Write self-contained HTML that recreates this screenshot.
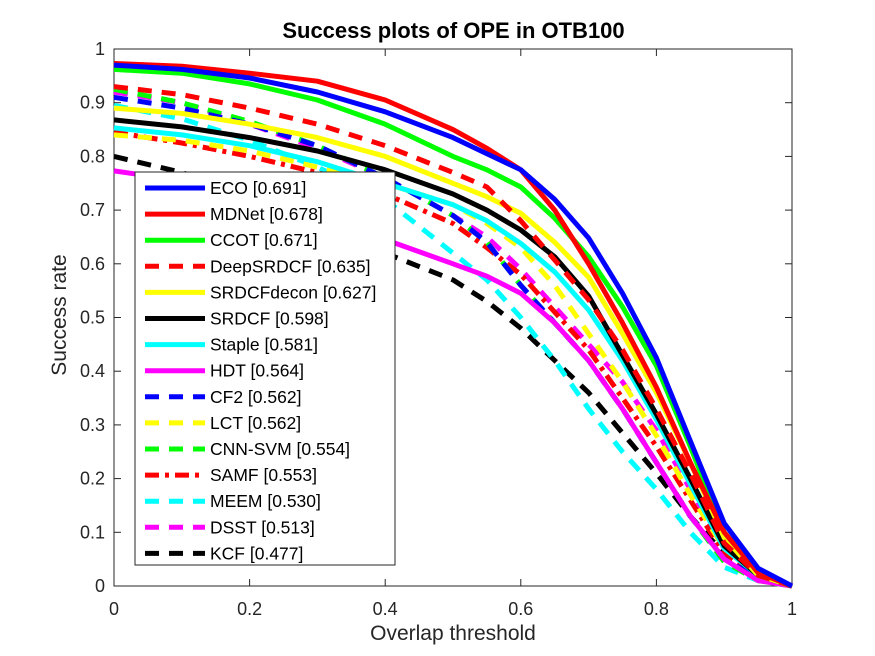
<!DOCTYPE html>
<html><head><meta charset="utf-8"><style>
body{margin:0;background:#fff;}
svg{display:block;font-family:"Liberation Sans",sans-serif;}
</style></head><body>
<svg id="chart" width="875" height="656">
<rect x="0" y="0" width="875" height="656" fill="#fff"/>
<g id="plot"></g>
</svg>
<script>
const thresholds=[0,0.1,0.2,0.3,0.4,0.5,0.55,0.6,0.65,0.7,0.75,0.8,0.85,0.9,0.95,1];
const trackers=["ECO [0.691]","MDNet [0.678]","CCOT [0.671]","DeepSRDCF [0.635]","SRDCFdecon [0.627]","SRDCF [0.598]","Staple [0.581]","HDT [0.564]","CF2 [0.562]","LCT [0.562]","CNN-SVM [0.554]","SAMF [0.553]","MEEM [0.530]","DSST [0.513]","KCF [0.477]"];
const ecoVals=[.97,.962,.946,.92,.883,.835,.805,.775,.72,.648,.545,.425,.27,.117,.033,0];
const mdnetVals=[.973,.968,.955,.94,.905,.85,.815,.775,.70,.60,.49,.37,.23,.10,.025,0];
const ccotVals=[.962,.955,.935,.905,.86,.80,.775,.743,.685,.613,.52,.41,.26,.10,.025,0];
const deepsrdcfVals=[.93,.915,.89,.86,.82,.77,.743,.68,.607,.533,.44,.33,.21,.08,.02,0];
const srdcfdeconVals=[.89,.88,.86,.835,.80,.75,.725,.694,.64,.575,.47,.36,.23,.09,.02,0];
const srdcfVals=[.868,.855,.835,.81,.775,.73,.70,.663,.613,.54,.43,.32,.20,.075,.02,0];
const stapleVals=[.853,.84,.82,.79,.75,.71,.68,.638,.585,.514,.42,.31,.19,.07,.02,0];
const hdtVals=[.773,.755,.725,.69,.645,.60,.577,.545,.49,.42,.33,.23,.13,.05,.01,0];
const cf2Vals=[.91,.89,.86,.82,.76,.69,.64,.56,.49,.42,.33,.23,.13,.05,.015,0];
const lctVals=[.84,.83,.81,.78,.75,.71,.675,.63,.56,.47,.38,.28,.17,.07,.02,0];
const cnnsvmVals=[.925,.90,.865,.82,.76,.69,.64,.56,.49,.42,.33,.23,.13,.045,.01,0];
const samfVals=[.845,.825,.80,.77,.73,.675,.63,.58,.51,.44,.35,.26,.16,.06,.02,0];
const meemVals=[.895,.87,.83,.78,.72,.62,.57,.50,.42,.33,.25,.18,.10,.035,.01,0];
const dsstVals=[.92,.90,.86,.815,.76,.69,.65,.59,.52,.45,.38,.29,.18,.07,.02,0];
const kcfVals=[.80,.77,.73,.68,.62,.57,.53,.48,.42,.36,.285,.21,.13,.06,.015,0];
const xTicks=["0","0.2","0.4","0.6","0.8","1"];
const yTicks=["0","0.1","0.2","0.3","0.4","0.5","0.6","0.7","0.8","0.9","1"];

const series=[ecoVals,mdnetVals,ccotVals,deepsrdcfVals,srdcfdeconVals,srdcfVals,stapleVals,hdtVals,cf2Vals,lctVals,cnnsvmVals,samfVals,meemVals,dsstVals,kcfVals];
const colors=["#0000ff","#ff0000","#00ff00","#ff0000","#ffff00","#000000","#00ffff","#ff00ff","#0000ff","#ffff00","#00ff00","#ff0000","#00ffff","#ff00ff","#000000"];
const dashes=["","","","14 10","","","","","14 10","14 10","14 10","14 6 4 6","14 10","14 10","14 10"];
const X0=114,X1=792,Y0=586,Y1=49;
function sx(v){return X0+(X1-X0)*v;}
function sy(v){return Y0-(Y0-Y1)*v;}
const NS="http://www.w3.org/2000/svg";
const g=document.getElementById('plot');
function mk(t,a,p){const e=document.createElementNS(NS,t);for(const k in a)e.setAttribute(k,a[k]);(p||g).appendChild(e);return e;}
mk('rect',{x:X0,y:Y1,width:X1-X0,height:Y0-Y1,fill:'#fff',stroke:'#262626','stroke-width':1});
xTicks.forEach(t=>{const v=parseFloat(t),x=sx(v);
 mk('line',{x1:x,x2:x,y1:Y0,y2:Y0-7,stroke:'#262626'});mk('line',{x1:x,x2:x,y1:Y1,y2:Y1+7,stroke:'#262626'});
 const tx=mk('text',{x:x,y:Y0+29,'text-anchor':'middle','font-size':18,fill:'#262626'});tx.textContent=t;
 
 });
yTicks.forEach(t=>{const v=parseFloat(t),y=sy(v);
 mk('line',{x1:X0,x2:X0+7,y1:y,y2:y,stroke:'#262626'});mk('line',{x1:X1,x2:X1-7,y1:y,y2:y,stroke:'#262626'});
 const tx=mk('text',{x:X0-9,y:y+6,'text-anchor':'end','font-size':18,fill:'#262626'});tx.textContent=t;
 
 });
for(let i=series.length-1;i>=0;i--){
 const d=series[i].map((v,j)=>(j?'L':'M')+sx(thresholds[j]).toFixed(1)+','+sy(v).toFixed(1)).join(' ');
 const p=mk('path',{d:d,fill:'none',stroke:colors[i],'stroke-width':5,'stroke-linejoin':'round','stroke-dasharray':dashes[i]});
 
 
}
const lg=mk('g',{});


mk('rect',{x:135,y:172,width:260,height:393,fill:'#fff',stroke:'#262626','stroke-width':1},lg);
trackers.forEach((n,i)=>{const y=188+26.1*i;
 const e=mk('g',{},lg);
 
 
 mk('line',{x1:145,x2:205,y1:y,y2:y,stroke:colors[i],'stroke-width':5,'stroke-dasharray':dashes[i]},e);
 const t=mk('text',{x:210,y:y+6,'font-size':17.5,fill:'#000'},e);t.textContent=n;});
</script>
<div style="position:absolute;left:0;top:0;width:875px;height:656px;pointer-events:none">
<div style="position:absolute;left:0;width:907px;top:18px;line-height:28px;text-align:center;font:bold 22px 'Liberation Sans',sans-serif;color:#000">Success plots of OPE in OTB100</div>
<div style="position:absolute;left:114px;width:678px;top:622px;line-height:28px;text-align:center;font:21px 'Liberation Sans',sans-serif;color:#262626">Overlap threshold</div>
<div style="position:absolute;left:-40px;width:200px;top:303px;line-height:28px;text-align:center;font:21px 'Liberation Sans',sans-serif;color:#262626;transform:rotate(-90deg)">Success rate</div>
</div>
</body></html>
